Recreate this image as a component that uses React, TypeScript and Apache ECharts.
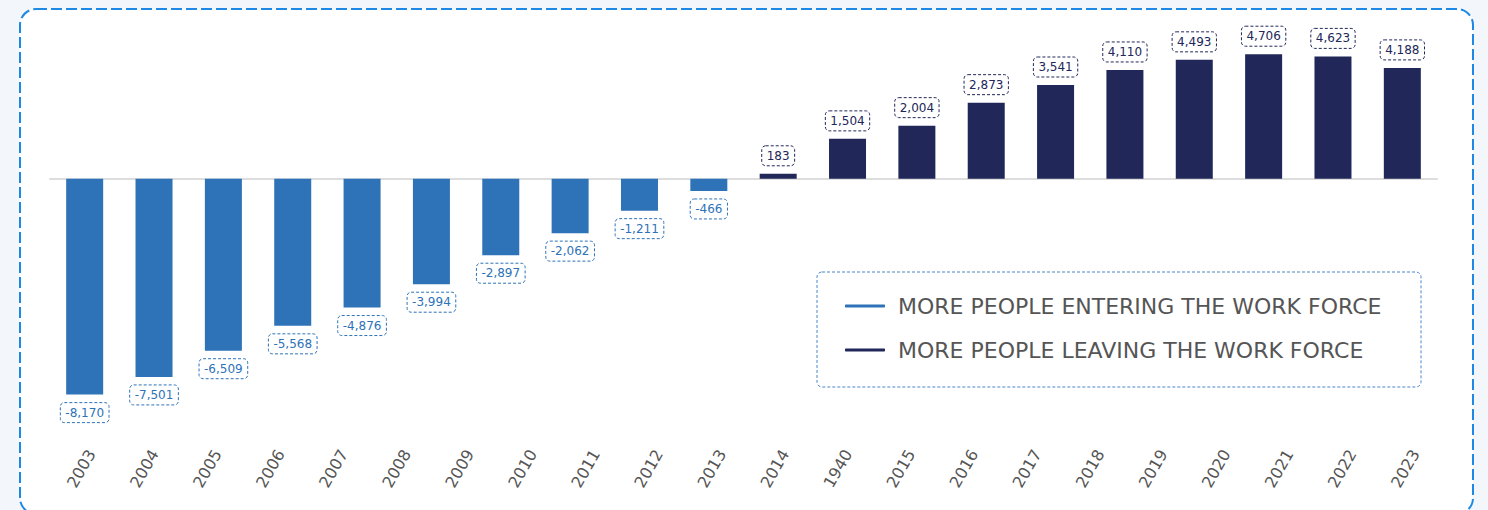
import React, { useEffect, useRef } from "react";
import * as echarts from "echarts";

const axisLabels = ["2003","2004","2005","2006","2007","2008","2009","2010","2011","2012","2013","2014","1940","2015","2016","2017","2018","2019","2020","2021","2022","2023"];
const barCategories = ["2004","2005","2006","2007","2008","2009","2010","2011","2012","2013","2014","2015","2016","2017","2018","2019","2020","2021","2022","2023"];
const entering: (number | null)[] = [-8170,-7501,-6509,-5568,-4876,-3994,-2897,-2062,-1211,-466,null,null,null,null,null,null,null,null,null,null];
const leaving: (number | null)[] = [null,null,null,null,null,null,null,null,null,null,183,1504,2004,2873,3541,4110,4493,4706,4623,4188];
const seriesNames = ["MORE PEOPLE ENTERING THE WORK FORCE", "MORE PEOPLE LEAVING THE WORK FORCE"];

const BLUE = "#2e72b8";
const NAVY = "#212759";
const FONT = "'DejaVu Sans', 'Noto Sans', sans-serif";

const fmt = (p: any) => Number(p.value).toLocaleString("en-US");

export default function App() {
  const ref = useRef<HTMLDivElement>(null);
  useEffect(() => {
    if (!ref.current) return;
    const chart = echarts.init(ref.current, null, { renderer: "svg" });
    const labelBox = (color: string, position: string) => ({
      show: true,
      position,
      distance: 8,
      formatter: fmt,
      color,
      fontSize: 12,
      fontFamily: FONT,
      padding: [4, 5, 4, 5],
      borderColor: color,
      borderWidth: 1,
      borderType: [3, 2],
      borderRadius: 4,
    });
    chart.setOption({
      animation: false,
      backgroundColor: "#f3f7fc",
      textStyle: { fontFamily: FONT },
      graphic: [
        {
          type: "rect",
          z: -10,
          shape: { x: 20, y: 9, width: 1453, height: 505, r: 16 },
          style: { fill: "#ffffff", stroke: "#1e88e5", lineWidth: 2, lineDash: [11, 4] },
          silent: true,
        },
        {
          type: "rect",
          z: -5,
          shape: { x: 817, y: 272, width: 604, height: 115, r: 5 },
          style: { fill: "#ffffff", stroke: "#4a86c8", lineWidth: 1, lineDash: [3, 2] },
          silent: true,
        },
      ],
      grid: [
        { left: 50, right: 51, top: 20, bottom: 67, containLabel: false },
        { left: 60, right: 41, top: 20, bottom: 67, containLabel: false },
      ],
      legend: {
        orient: "vertical",
        left: 840,
        top: 290,
        itemWidth: 40,
        itemHeight: 3,
        itemGap: 22,
        icon: "roundRect",
        textStyle: { fontSize: 22, color: "#555555", fontFamily: FONT, padding: [0, 0, 0, 8] },
        data: seriesNames,
      },
      xAxis: [
        {
          type: "category",
          gridIndex: 0,
          data: barCategories,
          position: "bottom",
          axisLine: { show: true, onZero: true, lineStyle: { color: "#dddddd", width: 2 } },
          axisTick: { show: false },
          axisLabel: { show: false },
          splitLine: { show: false },
        },
        {
          type: "category",
          gridIndex: 1,
          data: axisLabels,
          position: "bottom",
          axisLine: { show: false, onZero: false },
          axisTick: { show: false },
          axisLabel: { show: true, rotate: 60, color: "#555555", fontSize: 16, margin: 8, fontFamily: FONT, interval: 0 },
          splitLine: { show: false },
        },
      ],
      yAxis: [
        { type: "value", gridIndex: 0, min: -10000, max: 6000, show: false, splitLine: { show: false } },
        { type: "value", gridIndex: 1, min: -10000, max: 6000, show: false, splitLine: { show: false } },
      ],
      series: [
        {
          name: seriesNames[0],
          type: "bar",
          xAxisIndex: 0,
          yAxisIndex: 0,
          data: entering,
          barWidth: 37,
          barGap: "-100%",
          itemStyle: { color: BLUE },
          label: labelBox(BLUE, "bottom"),
        },
        {
          name: seriesNames[1],
          type: "bar",
          xAxisIndex: 0,
          yAxisIndex: 0,
          data: leaving,
          barWidth: 37,
          barGap: "-100%",
          itemStyle: { color: NAVY },
          label: labelBox(NAVY, "top"),
        },
      ],
    });
    return () => chart.dispose();
  }, []);
  return (
    <div
      ref={ref}
      style={{ position: "absolute", left: 0, top: 0, width: 1488, height: 510 }}
    />
  );
}
